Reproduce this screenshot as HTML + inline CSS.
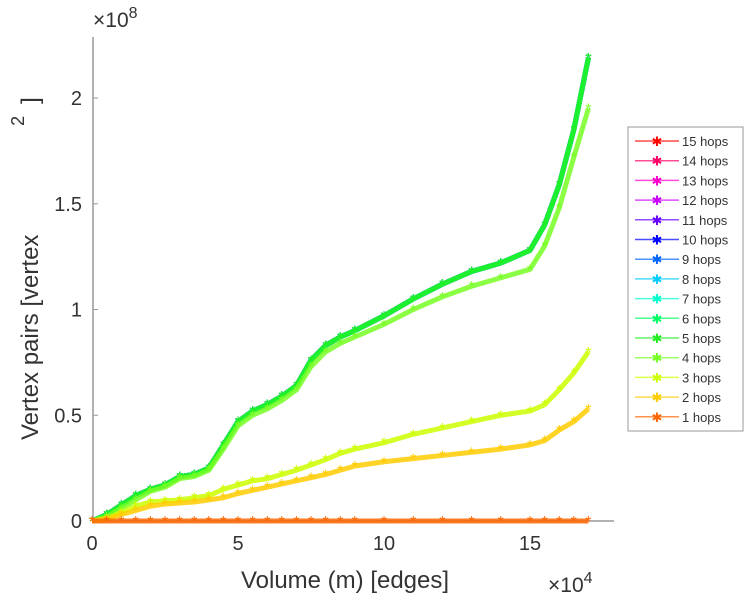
<!DOCTYPE html>
<html><head><meta charset="utf-8"><style>
body{margin:0;background:#fff;}
</style></head><body>
<svg id="c" width="749" height="600" xmlns="http://www.w3.org/2000/svg" style="position:absolute;left:0;top:0"></svg>
<script>
const xs=[0,0.5,1,1.5,2,2.5,3,3.5,4,4.5,5,5.5,6,6.5,7,7.5,8,8.5,9,10,11,12,13,14,15,15.5,16,16.5,17];
const mainVals=[0,0.03,0.075,0.12,0.15,0.17,0.21,0.22,0.25,0.36,0.47,0.52,0.55,0.59,0.64,0.76,0.83,0.87,0.9,0.97,1.05,1.12,1.18,1.22,1.28,1.40,1.59,1.85,2.19];
const fourVals=[0,0.02,0.06,0.1,0.14,0.16,0.2,0.21,0.24,0.34,0.45,0.5,0.53,0.57,0.62,0.73,0.8,0.84,0.87,0.93,1.0,1.06,1.11,1.15,1.19,1.30,1.48,1.72,1.95];
const threeVals=[0,0.01,0.04,0.07,0.09,0.095,0.10,0.11,0.12,0.15,0.17,0.19,0.20,0.22,0.24,0.265,0.29,0.32,0.34,0.37,0.41,0.44,0.47,0.50,0.52,0.55,0.62,0.70,0.80];
const twoVals=[0,0.01,0.03,0.05,0.07,0.08,0.085,0.09,0.10,0.11,0.13,0.145,0.16,0.175,0.19,0.205,0.22,0.24,0.26,0.28,0.295,0.31,0.325,0.34,0.36,0.38,0.43,0.47,0.53];
const oneVals=[0,0,0,0,0,0,0,0,0,0,0,0,0,0,0,0,0,0,0,0,0,0,0,0,0,0,0,0,0];
const hops=[15,14,13,12,11,10,9,8,7,6,5,4,3,2,1];
const colors=["#ff0000","#ff0066","#ff00cc","#cc00ff","#6600ff","#0000ff","#0066ff","#00ccff","#00ffcc","#00ff66","#22ee22","#77ff22","#ccff00","#ffcc00","#ff6600"];
const xTicks=[0,5,10,15];
const yTicks=[0,0.5,1,1.5,2];
const yTickLabels=["0","0.5","1","1.5","2"];
function sx(v){return 92+v*29.2;}
function sy(v){return 521-v*211.5;}
function seriesFor(h){if(h>=5)return mainVals;if(h==4)return fourVals;if(h==3)return threeVals;if(h==2)return twoVals;return oneVals;}
const svg=document.getElementById('c');
const NS="http://www.w3.org/2000/svg";
function mk(t,a,p){const e=document.createElementNS(NS,t);for(const k in a)e.setAttribute(k,a[k]);(p||svg).appendChild(e);return e;}
let ax=mk('line',{x1:93,y1:37,x2:93,y2:521,stroke:'#999','stroke-width':1.5});


let bx=mk('line',{x1:93,y1:521,x2:614,y2:521,stroke:'#999','stroke-width':1.5});


xTicks.forEach(t=>{
  mk('line',{x1:sx(t),y1:521,x2:sx(t),y2:516,stroke:'#999'});
  const tx=mk('text',{x:sx(t),y:550,'font-size':20,'text-anchor':'middle','font-family':'Liberation Sans',fill:'#333'});tx.textContent=t;
  
  
});
yTicks.forEach((t,i)=>{
  mk('line',{x1:93,y1:sy(t),x2:98,y2:sy(t),stroke:'#999'});
  const tx=mk('text',{x:82,y:sy(t)+7,'font-size':20,'text-anchor':'end','font-family':'Liberation Sans',fill:'#333'});tx.textContent=yTickLabels[i];
  
  
});
hops.forEach((h,i)=>{
  const vals=seriesFor(h);
  const g=mk('g',{});
  
  
  const pts=xs.map((x,j)=>sx(x)+','+sy(vals[j])).join(' ');
  mk('polyline',{points:pts,fill:'none',stroke:colors[i],'stroke-width':5,'stroke-linejoin':'round',opacity:0.85},g);
  xs.forEach((x,j)=>{
    const t=mk('text',{x:sx(x),y:sy(vals[j])+6,'font-size':16,'text-anchor':'middle','font-family':'Liberation Sans',fill:colors[i]},g);t.textContent='*';
  });
});
</script>
<svg width="749" height="600" style="position:absolute;left:0;top:0" xmlns="http://www.w3.org/2000/svg">
<text x="93" y="27" font-size="21" font-family="Liberation Sans" fill="#333">×10<tspan dy="-9" font-size="16">8</tspan></text>
<text x="548" y="592" font-size="21" font-family="Liberation Sans" fill="#333">×10<tspan dy="-9" font-size="16">4</tspan></text>
<text x="345" y="588" font-size="24" text-anchor="middle" font-family="Liberation Sans" fill="#333">Volume (m) [edges]</text>
<text transform="translate(38,440) rotate(-90)" font-size="24" font-family="Liberation Sans" fill="#333">Vertex pairs [vertex <tspan dy="-14" font-size="18" dx="102">2</tspan><tspan dy="14" dx="12">]</tspan></text>
<rect x="628" y="127" width="115" height="304" fill="#fff" stroke="#999"/>
<g id="lg"></g>
</svg>
<script>
const lg=document.getElementById('lg');
hops.forEach((h,i)=>{
  const y=141+i*19.7;
  const g=document.createElementNS(NS,'g');
  
  
  g.innerHTML='<line x1="635" x2="679" y1="'+y+'" y2="'+y+'" stroke="'+colors[i]+'" stroke-width="1.5" opacity="0.7"/><text x="657" y="'+(y+5)+'" font-size="13" text-anchor="middle" fill="'+colors[i]+'" font-family="Liberation Sans">✱</text><text x="682" y="'+(y+5)+'" font-size="13" fill="#333" font-family="Liberation Sans">'+h+' hops</text>';
  lg.appendChild(g);
});
</script>
</body></html>
